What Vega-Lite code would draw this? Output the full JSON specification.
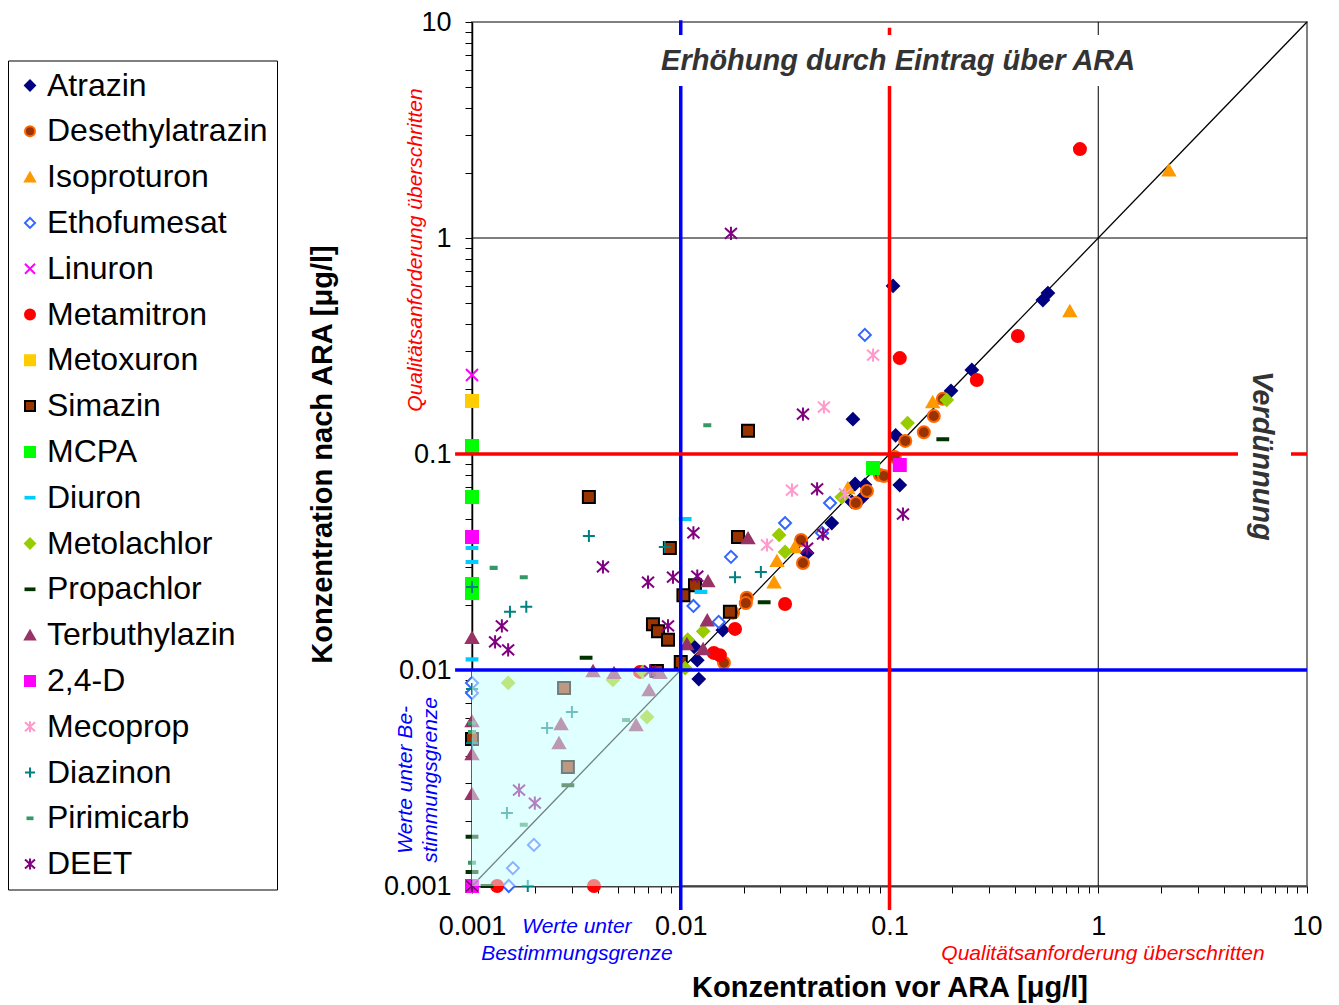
{
  "$schema": "https://vega.github.io/schema/vega-lite/v6.json",
  "width": 835,
  "height": 864,
  "autosize": {"type": "none"},
  "padding": {"left": 472, "top": 22, "right": 32, "bottom": 119},
  "background": "white",
  "config": {
    "font": "Liberation Sans",
    "view": {"stroke": "#808080", "strokeWidth": 2},
    "axis": {
      "grid": false,
      "labelFont": "Liberation Sans",
      "labelFontSize": 27,
      "labelColor": "#000000",
      "tickColor": "#000000",
      "tickSize": 7,
      "tickWidth": 1,
      "titleFont": "Liberation Sans",
      "titleFontSize": 29,
      "titleFontWeight": "bold",
      "titleColor": "#000000",
      "labelOverlap": false,
      "labelFlush": false
    },
    "legend": {
      "orient": "none",
      "legendX": -464,
      "legendY": 38.5,
      "strokeColor": "#000000",
      "padding": 9,
      "labelFont": "Liberation Sans",
      "labelFontSize": 32,
      "labelColor": "#000000",
      "labelLimit": 400,
      "symbolSize": 100,
      "symbolStrokeWidth": 2,
      "symbolOffset": -3,
      "rowPadding": 13.8,
      "labelOffset": 1
    }
  },
  "datasets": {
    "points": [
      {"s": "Atrazin", "x": 0.104, "y": 0.6},
      {"s": "Atrazin", "x": 0.574, "y": 0.556},
      {"s": "Atrazin", "x": 0.543, "y": 0.516},
      {"s": "Atrazin", "x": 0.248, "y": 0.245},
      {"s": "Atrazin", "x": 0.197, "y": 0.196},
      {"s": "Atrazin", "x": 0.107, "y": 0.122},
      {"s": "Atrazin", "x": 0.0668, "y": 0.145},
      {"s": "Atrazin", "x": 0.112, "y": 0.0718},
      {"s": "Atrazin", "x": 0.0684, "y": 0.0726},
      {"s": "Atrazin", "x": 0.0762, "y": 0.072},
      {"s": "Atrazin", "x": 0.0661, "y": 0.06},
      {"s": "Atrazin", "x": 0.0738, "y": 0.0626},
      {"s": "Atrazin", "x": 0.0529, "y": 0.0479},
      {"s": "Atrazin", "x": 0.0403, "y": 0.0348},
      {"s": "Atrazin", "x": 0.0159, "y": 0.0153},
      {"s": "Atrazin", "x": 0.0116, "y": 0.0128},
      {"s": "Atrazin", "x": 0.012, "y": 0.0111},
      {"s": "Atrazin", "x": 0.0122, "y": 0.00908},
      {"s": "Desethylatrazin", "x": 0.18, "y": 0.18},
      {"s": "Desethylatrazin", "x": 0.163, "y": 0.15},
      {"s": "Desethylatrazin", "x": 0.146, "y": 0.126},
      {"s": "Desethylatrazin", "x": 0.119, "y": 0.115},
      {"s": "Desethylatrazin", "x": 0.106, "y": 0.0968},
      {"s": "Desethylatrazin", "x": 0.0899, "y": 0.0799},
      {"s": "Desethylatrazin", "x": 0.094, "y": 0.0791},
      {"s": "Desethylatrazin", "x": 0.078, "y": 0.0674},
      {"s": "Desethylatrazin", "x": 0.069, "y": 0.0593},
      {"s": "Desethylatrazin", "x": 0.0377, "y": 0.04},
      {"s": "Desethylatrazin", "x": 0.0385, "y": 0.0313},
      {"s": "Desethylatrazin", "x": 0.0207, "y": 0.0216},
      {"s": "Desethylatrazin", "x": 0.0205, "y": 0.0204},
      {"s": "Desethylatrazin", "x": 0.0178, "y": 0.0184},
      {"s": "Desethylatrazin", "x": 0.0161, "y": 0.0108},
      {"s": "Isoproturon", "x": 2.18, "y": 2.06},
      {"s": "Isoproturon", "x": 0.731, "y": 0.459},
      {"s": "Isoproturon", "x": 0.161, "y": 0.174},
      {"s": "Isoproturon", "x": 0.0632, "y": 0.0696},
      {"s": "Isoproturon", "x": 0.0352, "y": 0.0371},
      {"s": "Isoproturon", "x": 0.0289, "y": 0.032},
      {"s": "Isoproturon", "x": 0.028, "y": 0.0255},
      {"s": "Ethofumesat", "x": 0.0762, "y": 0.356},
      {"s": "Ethofumesat", "x": 0.0519, "y": 0.0593},
      {"s": "Ethofumesat", "x": 0.0316, "y": 0.0479},
      {"s": "Ethofumesat", "x": 0.0475, "y": 0.0431},
      {"s": "Ethofumesat", "x": 0.0174, "y": 0.0334},
      {"s": "Ethofumesat", "x": 0.0115, "y": 0.0198},
      {"s": "Ethofumesat", "x": 0.0152, "y": 0.0167},
      {"s": "Ethofumesat", "x": 0.001, "y": 0.00871},
      {"s": "Ethofumesat", "x": 0.001, "y": 0.00782},
      {"s": "Ethofumesat", "x": 0.00198, "y": 0.00155},
      {"s": "Ethofumesat", "x": 0.00157, "y": 0.00121},
      {"s": "Ethofumesat", "x": 0.0015, "y": 0.001},
      {"s": "Linuron", "x": 0.001, "y": 0.232},
      {"s": "Linuron", "x": 0.001, "y": 0.001},
      {"s": "Metamitron", "x": 0.817, "y": 2.58},
      {"s": "Metamitron", "x": 0.412, "y": 0.352},
      {"s": "Metamitron", "x": 0.112, "y": 0.278},
      {"s": "Metamitron", "x": 0.262, "y": 0.22},
      {"s": "Metamitron", "x": 0.0316, "y": 0.0202},
      {"s": "Metamitron", "x": 0.0182, "y": 0.0155},
      {"s": "Metamitron", "x": 0.0144, "y": 0.012},
      {"s": "Metamitron", "x": 0.0154, "y": 0.0117},
      {"s": "Metamitron", "x": 0.00638, "y": 0.0098},
      {"s": "Metamitron", "x": 0.00132, "y": 0.001},
      {"s": "Metamitron", "x": 0.00384, "y": 0.001},
      {"s": "Metoxuron", "x": 0.001, "y": 0.176},
      {"s": "Simazin", "x": 0.021, "y": 0.128},
      {"s": "Simazin", "x": 0.00363, "y": 0.0632},
      {"s": "Simazin", "x": 0.00887, "y": 0.0367},
      {"s": "Simazin", "x": 0.0188, "y": 0.0413},
      {"s": "Simazin", "x": 0.0117, "y": 0.0247},
      {"s": "Simazin", "x": 0.0103, "y": 0.0222},
      {"s": "Simazin", "x": 0.00736, "y": 0.0163},
      {"s": "Simazin", "x": 0.00778, "y": 0.0151},
      {"s": "Simazin", "x": 0.00869, "y": 0.0138},
      {"s": "Simazin", "x": 0.01, "y": 0.0109},
      {"s": "Simazin", "x": 0.0172, "y": 0.0186},
      {"s": "Simazin", "x": 0.00769, "y": 0.0099},
      {"s": "Simazin", "x": 0.00276, "y": 0.00825},
      {"s": "Simazin", "x": 0.00288, "y": 0.00356},
      {"s": "Simazin", "x": 0.001, "y": 0.00479},
      {"s": "MCPA", "x": 0.001, "y": 0.109},
      {"s": "MCPA", "x": 0.001, "y": 0.0632},
      {"s": "MCPA", "x": 0.001, "y": 0.025},
      {"s": "MCPA", "x": 0.001, "y": 0.0227},
      {"s": "MCPA", "x": 0.0834, "y": 0.0861},
      {"s": "Diuron", "x": 0.001, "y": 0.0367},
      {"s": "Diuron", "x": 0.001, "y": 0.0316},
      {"s": "Diuron", "x": 0.001, "y": 0.0112},
      {"s": "Diuron", "x": 0.0105, "y": 0.05},
      {"s": "Diuron", "x": 0.0125, "y": 0.023},
      {"s": "Metolachlor", "x": 0.188, "y": 0.178},
      {"s": "Metolachlor", "x": 0.122, "y": 0.139},
      {"s": "Metolachlor", "x": 0.0591, "y": 0.0632},
      {"s": "Metolachlor", "x": 0.0296, "y": 0.0422},
      {"s": "Metolachlor", "x": 0.0316, "y": 0.0352},
      {"s": "Metolachlor", "x": 0.0128, "y": 0.0151},
      {"s": "Metolachlor", "x": 0.0108, "y": 0.0138},
      {"s": "Metolachlor", "x": 0.00473, "y": 0.009},
      {"s": "Metolachlor", "x": 0.00149, "y": 0.00871},
      {"s": "Metolachlor", "x": 0.00689, "y": 0.00606},
      {"s": "Metolachlor", "x": 0.0105, "y": 0.0102},
      {"s": "Metolachlor", "x": 0.0066, "y": 0.0098},
      {"s": "Propachlor", "x": 0.18, "y": 0.117},
      {"s": "Propachlor", "x": 0.0251, "y": 0.0206},
      {"s": "Propachlor", "x": 0.00352, "y": 0.0114},
      {"s": "Propachlor", "x": 0.00288, "y": 0.00293},
      {"s": "Propachlor", "x": 0.001, "y": 0.00169},
      {"s": "Propachlor", "x": 0.001, "y": 0.00116},
      {"s": "Propachlor", "x": 0.00118, "y": 0.001},
      {"s": "Terbuthylazin", "x": 0.021, "y": 0.0408},
      {"s": "Terbuthylazin", "x": 0.0135, "y": 0.0258},
      {"s": "Terbuthylazin", "x": 0.0134, "y": 0.017},
      {"s": "Terbuthylazin", "x": 0.0107, "y": 0.0132},
      {"s": "Terbuthylazin", "x": 0.0128, "y": 0.0125},
      {"s": "Terbuthylazin", "x": 0.001, "y": 0.0141},
      {"s": "Terbuthylazin", "x": 0.0038, "y": 0.0099},
      {"s": "Terbuthylazin", "x": 0.00479, "y": 0.0097},
      {"s": "Terbuthylazin", "x": 0.00796, "y": 0.0097},
      {"s": "Terbuthylazin", "x": 0.00705, "y": 0.00807},
      {"s": "Terbuthylazin", "x": 0.00611, "y": 0.00556},
      {"s": "Terbuthylazin", "x": 0.00267, "y": 0.00562},
      {"s": "Terbuthylazin", "x": 0.00261, "y": 0.00459},
      {"s": "Terbuthylazin", "x": 0.001, "y": 0.0058},
      {"s": "Terbuthylazin", "x": 0.001, "y": 0.00408},
      {"s": "Terbuthylazin", "x": 0.001, "y": 0.00267},
      {"s": "2,4-D", "x": 0.001, "y": 0.0413},
      {"s": "2,4-D", "x": 0.112, "y": 0.0889},
      {"s": "2,4-D", "x": 0.001, "y": 0.001},
      {"s": "Mecoprop", "x": 0.0834, "y": 0.287},
      {"s": "Mecoprop", "x": 0.0485, "y": 0.165},
      {"s": "Mecoprop", "x": 0.0341, "y": 0.0681},
      {"s": "Mecoprop", "x": 0.0612, "y": 0.0653},
      {"s": "Mecoprop", "x": 0.0259, "y": 0.0379},
      {"s": "Mecoprop", "x": 0.001, "y": 0.001},
      {"s": "Diazinon", "x": 0.00363, "y": 0.0417},
      {"s": "Diazinon", "x": 0.00839, "y": 0.0371},
      {"s": "Diazinon", "x": 0.0182, "y": 0.0269},
      {"s": "Diazinon", "x": 0.0242, "y": 0.0284},
      {"s": "Diazinon", "x": 0.00152, "y": 0.0186},
      {"s": "Diazinon", "x": 0.00182, "y": 0.0196},
      {"s": "Diazinon", "x": 0.001, "y": 0.0242},
      {"s": "Diazinon", "x": 0.001, "y": 0.00817},
      {"s": "Diazinon", "x": 0.001, "y": 0.00459},
      {"s": "Diazinon", "x": 0.00301, "y": 0.00639},
      {"s": "Diazinon", "x": 0.00229, "y": 0.00539},
      {"s": "Diazinon", "x": 0.00147, "y": 0.00218},
      {"s": "Diazinon", "x": 0.00185, "y": 0.001},
      {"s": "Pirimicarb", "x": 0.0134, "y": 0.136},
      {"s": "Pirimicarb", "x": 0.00127, "y": 0.0297},
      {"s": "Pirimicarb", "x": 0.00177, "y": 0.0269},
      {"s": "Pirimicarb", "x": 0.00547, "y": 0.00587},
      {"s": "Pirimicarb", "x": 0.00177, "y": 0.00192},
      {"s": "Pirimicarb", "x": 0.001, "y": 0.00568},
      {"s": "Pirimicarb", "x": 0.001, "y": 0.00516},
      {"s": "Pirimicarb", "x": 0.001, "y": 0.00128},
      {"s": "DEET", "x": 0.0174, "y": 1.05},
      {"s": "DEET", "x": 0.0385, "y": 0.153},
      {"s": "DEET", "x": 0.045, "y": 0.0689},
      {"s": "DEET", "x": 0.116, "y": 0.0527},
      {"s": "DEET", "x": 0.048, "y": 0.0426},
      {"s": "DEET", "x": 0.0403, "y": 0.0367},
      {"s": "DEET", "x": 0.00424, "y": 0.03},
      {"s": "DEET", "x": 0.00697, "y": 0.0255},
      {"s": "DEET", "x": 0.00918, "y": 0.0269},
      {"s": "DEET", "x": 0.0115, "y": 0.0431},
      {"s": "DEET", "x": 0.012, "y": 0.0272},
      {"s": "DEET", "x": 0.00869, "y": 0.016},
      {"s": "DEET", "x": 0.00139, "y": 0.016},
      {"s": "DEET", "x": 0.00129, "y": 0.0135},
      {"s": "DEET", "x": 0.00149, "y": 0.0124},
      {"s": "DEET", "x": 0.00713, "y": 0.0099},
      {"s": "DEET", "x": 0.00168, "y": 0.00278},
      {"s": "DEET", "x": 0.002, "y": 0.00242},
      {"s": "DEET", "x": 0.001, "y": 0.001}
    ]
  },
  "encoding": {
    "x": {
      "field": "x",
      "type": "quantitative",
      "scale": {"type": "log", "domain": [0.001, 10], "nice": false},
      "axis": {
        "title": "Konzentration vor ARA [μg/l]",
        "values": [0.001,0.002,0.003,0.004,0.005,0.006,0.007,0.008,0.009,0.01,0.02,0.03,0.04,0.05,0.06,0.07,0.08,0.09,0.1,0.2,0.3,0.4,0.5,0.6,0.7,0.8,0.9,1,2,3,4,5,6,7,8,9,10],
        "labelExpr": "datum.value == 0.001 ? '0.001' : datum.value == 0.01 ? '0.01' : datum.value == 0.1 ? '0.1' : datum.value == 1 ? '1' : datum.value == 10 ? '10' : ''",
        "domainColor": "#404040",
        "domainWidth": 2,
        "labelPadding": 20,
        "titlePadding": 34
      }
    },
    "y": {
      "field": "y",
      "type": "quantitative",
      "scale": {"type": "log", "domain": [0.001, 10], "nice": false},
      "axis": {
        "title": "Konzentration nach ARA [μg/l]",
        "values": [0.001,0.002,0.003,0.004,0.005,0.006,0.007,0.008,0.009,0.01,0.02,0.03,0.04,0.05,0.06,0.07,0.08,0.09,0.1,0.2,0.3,0.4,0.5,0.6,0.7,0.8,0.9,1,2,3,4,5,6,7,8,9,10],
        "labelExpr": "datum.value == 0.001 ? '0.001' : datum.value == 0.01 ? '0.01' : datum.value == 0.1 ? '0.1' : datum.value == 1 ? '1' : datum.value == 10 ? '10' : ''",
        "domainColor": "#000000",
        "domainWidth": 1.5,
        "labelPadding": 14,
        "titlePadding": 46
      }
    }
  },
  "layer": [
    {
      "data": {"values": [{"x": 0.001, "x2": 0.01, "y": 0.001, "y2": 0.01}]},
      "mark": {"type": "rect", "fill": "#E0FFFF"},
      "encoding": {"x2": {"field": "x2"}, "y2": {"field": "y2"}}
    },
    {
      "data": {"values": [{"x": 1, "y": 0.001, "y2": 10}]},
      "mark": {"type": "rule", "color": "#000000", "strokeWidth": 1},
      "encoding": {"y2": {"field": "y2"}}
    },
    {
      "data": {"values": [{"y": 1, "x": 0.001, "x2": 10}]},
      "mark": {"type": "rule", "color": "#000000", "strokeWidth": 1},
      "encoding": {"x2": {"field": "x2"}}
    },
    {
      "data": {"values": [{"x": 0.001, "y": 0.001}, {"x": 10, "y": 10}]},
      "mark": {"type": "line", "color": "#000000", "strokeWidth": 1.3},
      "encoding": {}
    },
    {
      "data": {"name": "points"},
      "mark": {"type": "point", "filled": true, "opacity": 1, "size": 144, "strokeWidth": 2},
      "encoding": {
        "shape": {
          "field": "s", "type": "nominal", "title": null,
          "scale": {
            "domain": ["Atrazin","Desethylatrazin","Isoproturon","Ethofumesat","Linuron","Metamitron","Metoxuron","Simazin","MCPA","Diuron","Metolachlor","Propachlor","Terbuthylazin","2,4-D","Mecoprop","Diazinon","Pirimicarb","DEET"],
            "range": ["diamond","circle","triangle-up","diamond","M-1,-1L1,1M-1,1L1,-1","circle","square","square","square","M-0.9,-0.17H0.9V0.17H-0.9Z","diamond","M-0.9,-0.17H0.9V0.17H-0.9Z","triangle-up","square","M-1,-0.9L1,0.9M-1,0.9L1,-0.9M0,-1.1V1.1","M-1,0H1M0,-1V1","M-0.5,-0.17H0.5V0.17H-0.5Z","M-1,-0.9L1,0.9M-1,0.9L1,-0.9M0,-1.1V1.1"]
          }
        },
        "fill": {
          "field": "s", "type": "nominal", "title": null,
          "scale": {
            "domain": ["Atrazin","Desethylatrazin","Isoproturon","Ethofumesat","Linuron","Metamitron","Metoxuron","Simazin","MCPA","Diuron","Metolachlor","Propachlor","Terbuthylazin","2,4-D","Mecoprop","Diazinon","Pirimicarb","DEET"],
            "range": ["#000080","#993300","#FF9900","#FFFFFF","transparent","#FF0000","#FFCC00","#993300","#00FF00","#00CCFF","#99CC00","#003300","#993366","#FF00FF","transparent","transparent","#339966","transparent"]
          }
        },
        "stroke": {
          "field": "s", "type": "nominal", "title": null,
          "scale": {
            "domain": ["Atrazin","Desethylatrazin","Isoproturon","Ethofumesat","Linuron","Metamitron","Metoxuron","Simazin","MCPA","Diuron","Metolachlor","Propachlor","Terbuthylazin","2,4-D","Mecoprop","Diazinon","Pirimicarb","DEET"],
            "range": ["#000080","#FF6600","#FF9900","#3366FF","#FF00FF","#FF0000","#FFCC00","#000000","#00FF00","#00CCFF","#99CC00","#003300","#993366","#FF00FF","#FF99CC","#008080","#339966","#800080"]
          }
        }
      }
    },
    {
      "data": {"values": [{"x": 0.001, "x2": 0.01, "y": 0.001, "y2": 0.01}]},
      "mark": {"type": "rect", "fill": "#E0FFFF", "opacity": 0.5},
      "encoding": {"x2": {"field": "x2"}, "y2": {"field": "y2"}}
    },
    {
      "data": {"values": [{"x": 0.01, "y": 0.000774, "y2": 10.2}]},
      "mark": {"type": "rule", "color": "#0000FF", "strokeWidth": 3.5},
      "encoding": {"y2": {"field": "y2"}}
    },
    {
      "data": {"values": [{"y": 0.01, "x": 0.00083, "x2": 10}]},
      "mark": {"type": "rule", "color": "#0000FF", "strokeWidth": 3.5},
      "encoding": {"x2": {"field": "x2"}}
    },
    {
      "data": {"values": [{"x": 0.1, "y": 0.000774, "y2": 9.4}]},
      "mark": {"type": "rule", "color": "#FF0000", "strokeWidth": 3.5},
      "encoding": {"y2": {"field": "y2"}}
    },
    {
      "data": {"values": [{"y": 0.1, "x": 0.00083, "x2": 10}]},
      "mark": {"type": "rule", "color": "#FF0000", "strokeWidth": 3.5},
      "encoding": {"x2": {"field": "x2"}}
    },
    {
      "data": {"values": [{"x": 0.00754, "x2": 1.62, "y": 5.06, "y2": 8.71}, {"x": 4.67, "x2": 8.38, "y": 0.0367, "y2": 0.258}]},
      "mark": {"type": "rect", "fill": "#FFFFFF"},
      "encoding": {"x2": {"field": "x2"}, "y2": {"field": "y2"}}
    },
    {
      "data": {"values": [{"x": 0.11, "y": 6.63, "t": "Erhöhung durch Eintrag über ARA"}]},
      "mark": {"type": "text", "font": "Liberation Sans", "fontSize": 29, "fontWeight": "bold", "fontStyle": "italic", "color": "#333333", "align": "center", "baseline": "middle"},
      "encoding": {"text": {"field": "t"}}
    },
    {
      "data": {"values": [{"x": 6.09, "y": 0.098, "t": "Verdünnung"}]},
      "mark": {"type": "text", "font": "Liberation Sans", "fontSize": 29, "fontWeight": "bold", "fontStyle": "italic", "color": "#333333", "align": "center", "baseline": "middle", "angle": 90},
      "encoding": {"text": {"field": "t"}}
    },
    {
      "data": {"values": [{"x": 0.00054, "y": 0.88, "t": "Qualitätsanforderung überschritten"}]},
      "mark": {"type": "text", "font": "Liberation Sans", "fontSize": 21, "fontStyle": "italic", "color": "#FF0000", "align": "center", "baseline": "middle", "angle": -90},
      "encoding": {"text": {"field": "t"}}
    },
    {
      "data": {"values": [{"x": 0.000483, "y": 0.0031, "t": "Werte unter Be-"}, {"x": 0.000636, "y": 0.0031, "t": "stimmungsgrenze"}]},
      "mark": {"type": "text", "font": "Liberation Sans", "fontSize": 21, "fontStyle": "italic", "color": "#0000FF", "align": "center", "baseline": "middle", "angle": -90},
      "encoding": {"text": {"field": "t"}}
    },
    {
      "data": {"values": [{"x": 0.00318, "y": 0.000646, "t": "Werte unter"}, {"x": 0.00318, "y": 0.000484, "t": "Bestimmungsgrenze"}]},
      "mark": {"type": "text", "font": "Liberation Sans", "fontSize": 21, "fontStyle": "italic", "color": "#0000FF", "align": "center", "baseline": "middle"},
      "encoding": {"text": {"field": "t"}}
    },
    {
      "data": {"values": [{"x": 1.054, "y": 0.000484, "t": "Qualitätsanforderung überschritten"}]},
      "mark": {"type": "text", "font": "Liberation Sans", "fontSize": 21, "fontStyle": "italic", "color": "#FF0000", "align": "center", "baseline": "middle"},
      "encoding": {"text": {"field": "t"}}
    }
  ]
}
